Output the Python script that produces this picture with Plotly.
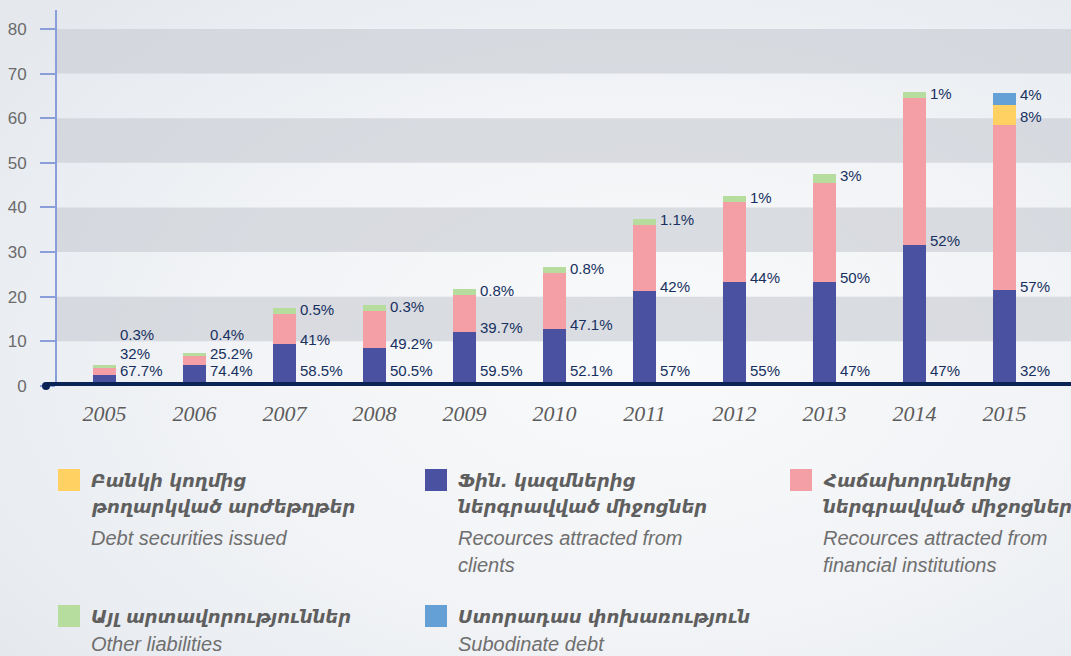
import base64
import plotly.graph_objects as go

# ---------------- data ----------------
years = [2005, 2006, 2007, 2008, 2009, 2010, 2011, 2012, 2013, 2014, 2015]

clients = [2.5, 4.8, 9.5, 8.6, 12.2, 12.8, 21.3, 23.4, 23.4, 31.7, 21.4]
fin_inst = [1.6, 1.9, 6.7, 8.3, 8.3, 12.6, 14.8, 17.9, 22.1, 32.9, 37.1]
debt_sec = [0, 0, 0, 0, 0, 0, 0, 0, 0, 0, 4.5]
other_liab = [0.7, 0.6, 1.3, 1.3, 1.3, 1.3, 1.4, 1.3, 2.0, 1.3, 0]
subord = [0, 0, 0, 0, 0, 0, 0, 0, 0, 0, 2.7]

pct_clients = ["67.7%", "74.4%", "58.5%", "50.5%", "59.5%", "52.1%", "57%", "55%", "47%", "47%", "32%"]
pct_fin = ["32%", "25.2%", "41%", "49.2%", "39.7%", "47.1%", "42%", "44%", "50%", "52%", "57%"]
pct_debt = ["", "", "", "", "", "", "", "", "", "", "8%"]
pct_other = ["0.3%", "0.4%", "0.5%", "0.3%", "0.8%", "0.8%", "1.1%", "1%", "3%", "1%", ""]
pct_sub = ["", "", "", "", "", "", "", "", "", "", "4%"]

y_ticks = [0, 10, 20, 30, 40, 50, 60, 70, 80]

names_hy = [
    ["Բանկի կողմից", "թողարկված արժեթղթեր"],
    ["Ֆին. կազմներից", "ներգրավված միջոցներ"],
    ["Հաճախորդներից", "ներգրավված միջոցներ"],
    ["Այլ արտավորություններ"],
    ["Ստորադաս փոխառություն"],
]
names_en = [
    ["Debt securities issued"],
    ["Recources attracted from", "clients"],
    ["Recources attracted from", "financial institutions"],
    ["Other liabilities"],
    ["Subodinate debt"],
]

# ---------------- style ----------------
C_BLUE = "#4a51a1"
C_PINK = "#f49ea6"
C_YELLOW = "#ffd062"
C_GREEN = "#b6dc9e"
C_SUB = "#649fd6"
C_LABEL = "#17305f"
C_AXIS = "#8a9fd9"
C_ZERO = "#0b2455"
C_BAND = "rgba(200,204,210,0.62)"
C_GRAY = "#6b6b6b"

W, H = 1071, 656
ML, MR, MT, MB = 57, 0, 10, 270
PW, PH = W - ML - MR, H - MT - MB
BAR_W = 0.256


def px(x):
    return (x - ML) / PW


def py(y):
    return (H - MB - y) / PH


fig = go.Figure()

series = [
    (clients, C_BLUE),
    (fin_inst, C_PINK),
    (debt_sec, C_YELLOW),
    (other_liab, C_GREEN),
    (subord, C_SUB),
]
for vals, col in series:
    fig.add_trace(go.Bar(
        x=years, y=vals, width=BAR_W, marker=dict(color=col, line=dict(width=0)),
        showlegend=False, hoverinfo="skip",
    ))

# ---------------- percentage labels ----------------
annotations = []


def lab(x, y, text):
    annotations.append(dict(
        x=x + BAR_W / 2, y=y, xref="x", yref="y", text=text, showarrow=False,
        xanchor="left", yanchor="middle", xshift=2,
        font=dict(family="Liberation Sans, Arial, sans-serif", size=15, color=C_LABEL),
    ))


for i, yr in enumerate(years):
    total = clients[i] + fin_inst[i] + debt_sec[i] + other_liab[i] + subord[i]
    y_bottom = 3.4
    lab(yr, y_bottom, pct_clients[i])
    y_mid = max(clients[i] + 1.0, y_bottom + 3.9)
    lab(yr, y_mid, pct_fin[i])
    prev = None
    for t in (pct_sub[i], pct_debt[i], pct_other[i]):
        if not t:
            continue
        yy = total - 0.3 if prev is None else prev - 5.0
        yy = max(yy, y_mid + 4.25)
        lab(yr, yy, t)
        prev = yy

# ---------------- legend (custom) ----------------
legend_colors = [C_YELLOW, C_BLUE, C_PINK, C_GREEN, C_SUB]
col_x = [58, 425, 790]
row_y = [480, 616]
shapes = []
for k, col in enumerate(legend_colors):
    cx = col_x[k % 3]
    cy = row_y[k // 3]
    shapes.append(dict(type="rect", xref="paper", yref="paper",
                       x0=px(cx), x1=px(cx + 22), y0=py(cy - 11), y1=py(cy + 11),
                       fillcolor=col, line=dict(width=0), layer="above"))
    ty = cy
    for j, line in enumerate(names_hy[k]):
        annotations.append(dict(
            x=px(cx + 31), y=py(ty), xref="paper", yref="paper", text="<b><i>%s</i></b>" % line,
            showarrow=False, xanchor="left", yanchor="middle",
            font=dict(family="DejaVu Sans, sans-serif", size=18, color="#5f5f5f"),
        ))
        ty += 27
    ty += 4
    for j, line in enumerate(names_en[k]):
        annotations.append(dict(
            x=px(cx + 31), y=py(min(ty, H - 12)), xref="paper", yref="paper", text="<i>%s</i>" % line,
            showarrow=False, xanchor="left", yanchor="middle",
            font=dict(family="Liberation Sans, Arial, sans-serif", size=20, color="#6f6f6f"),
        ))
        ty += 27

# ---------------- bands and zero line ----------------
for lo in (10, 30, 50, 70):
    shapes.append(dict(type="rect", xref="paper", yref="y", x0=0, x1=1, y0=lo, y1=lo + 10,
                       fillcolor=C_BAND, line=dict(width=0), layer="below"))

shapes.append(dict(type="line", xref="paper", yref="y", x0=px(46), x1=1.0, y0=0, y1=0,
                   line=dict(color=C_ZERO, width=8), layer="above"))
shapes.append(dict(type="circle", xref="paper", yref="paper",
                   x0=px(42), x1=px(50), y0=py(390), y1=py(382),
                   fillcolor=C_ZERO, line=dict(width=0), layer="above"))

# ---------------- soft background gradient ----------------
svg = (
    '<svg xmlns="http://www.w3.org/2000/svg" width="%d" height="%d">'
    '<defs><radialGradient id="g" cx="0.6" cy="0.55" r="0.75">'
    '<stop offset="0" stop-color="#f9fafb"/>'
    '<stop offset="0.55" stop-color="#f1f3f6"/>'
    '<stop offset="1" stop-color="#e5e9ee"/>'
    '</radialGradient></defs>'
    '<rect width="100%%" height="100%%" fill="url(#g)"/></svg>' % (W, H)
)
bg_src = "data:image/svg+xml;base64," + base64.b64encode(svg.encode()).decode()

fig.update_layout(
    width=W, height=H,
    margin=dict(l=ML, r=MR, t=MT, b=MB),
    paper_bgcolor="#eef1f4",
    plot_bgcolor="rgba(0,0,0,0)",
    barmode="stack",
    showlegend=False,
    shapes=shapes,
    annotations=annotations,
    images=[dict(source=bg_src, xref="paper", yref="paper",
                 x=px(0), y=py(0), sizex=W / PW, sizey=H / PH,
                 xanchor="left", yanchor="top", sizing="stretch", layer="below")],
    xaxis=dict(
        range=[years[0] - 0.528, years[-1] + 0.739],
        tickvals=years, ticktext=[str(y) for y in years],
        showgrid=False, zeroline=False, showline=False, ticks="",
        ticklabelstandoff=12,
        tickfont=dict(family="Liberation Serif, serif", size=22, color="#5c5c5c", style="italic"),
    ),
    yaxis=dict(
        range=[0, PH / 4.463],
        tickvals=y_ticks,
        showgrid=False, zeroline=False,
        showline=True, linecolor=C_AXIS, linewidth=2,
        ticks="outside", ticklen=15, tickcolor=C_AXIS, tickwidth=2,
        ticklabelstandoff=10,
        tickfont=dict(family="Liberation Sans, Arial, sans-serif", size=17, color=C_GRAY),
    ),
)

fig.write_html(
    "out.html",
    config={"displayModeBar": False},
    post_script="document.body.style.margin='0';document.body.style.overflow='hidden';",
)
